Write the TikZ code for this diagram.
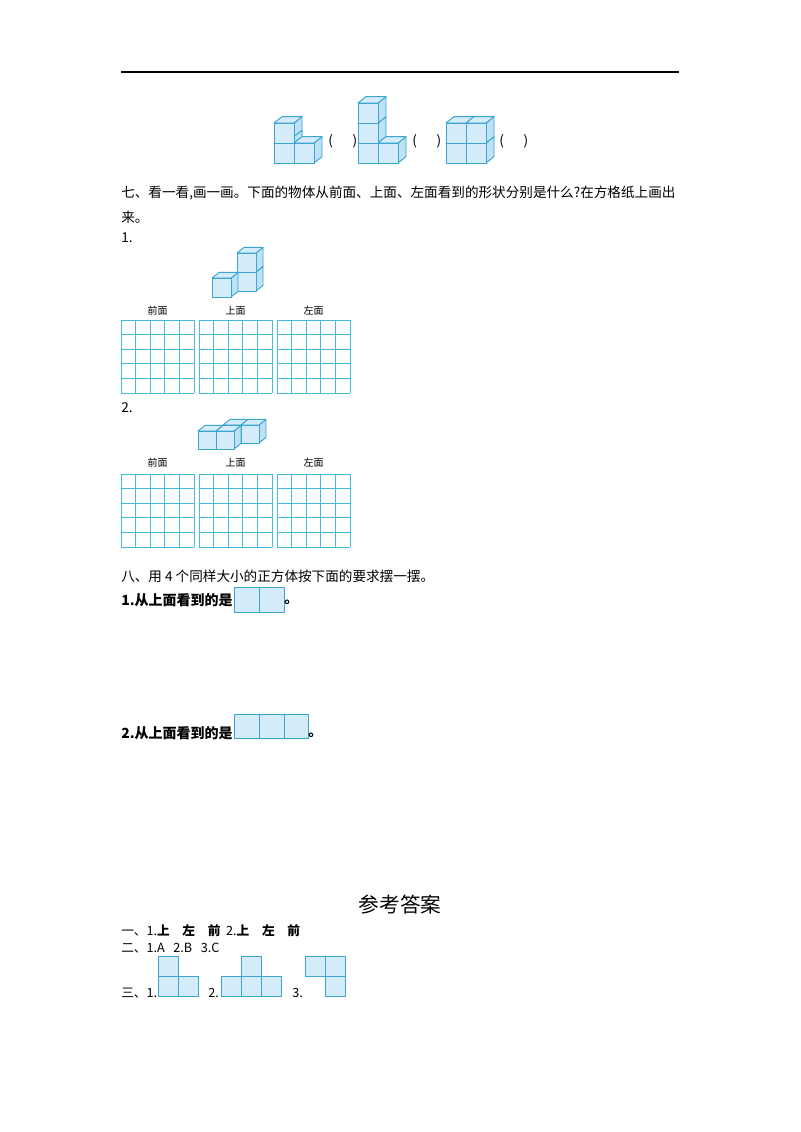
\documentclass[tikz,border=0pt]{standalone}
\usepackage{fontspec}
\setmainfont{Liberation Serif}
\newfontfamily\cjk{Noto Sans CJK SC}
\definecolor{cl}{RGB}{60,165,210}
\definecolor{cf}{RGB}{212,236,250}
\definecolor{cs}{RGB}{190,225,245}
\definecolor{gl}{RGB}{70,185,225}
\newcommand{\mycube}[4]{% x y size depth
 \pgfmathsetmacro\dx{#4}\pgfmathsetmacro\dy{-0.8*#4}
 \filldraw[cube,fill=cs] (#1+#3,#2) -- ++(\dx,\dy) -- ++(0,-#3) -- ++(-\dx,-\dy) -- cycle;
 \filldraw[cube,fill=cf] (#1,#2-#3) -- ++(\dx,\dy) -- ++(#3,0) -- ++(-\dx,-\dy) -- cycle;
 \filldraw[cube] (#1,#2) rectangle ++(#3,-#3);}
\begin{document}
\begin{tikzpicture}[x=0.75pt,y=-0.75pt,
 cube/.style={draw=cl,fill=cf,line width=0.7pt,line join=round},
 grid/.style={draw=gl,line width=0.6pt},
 txt/.style={anchor=west,font=\cjk\fontsize{10.2pt}{12pt}\selectfont,inner sep=0},
 btxt/.style={anchor=west,font=\cjk\bfseries\fontsize{10.5pt}{12pt}\selectfont,inner sep=0},
 atxt/.style={anchor=west,font=\cjk\fontsize{9.5pt}{10pt}\selectfont,inner sep=0},
 lab/.style={font=\cjk\fontsize{7.5pt}{9pt}\selectfont,inner sep=0},
 cell/.style={draw=cl,fill=cf,line width=0.7pt}]
\useasboundingbox (0,0) rectangle (800,1132);
\fill[white] (0,0) rectangle (800,1132);
\draw[line width=0.8pt] (121,72) -- (679,72);
% top figures (s=20, d=8)
\mycube{274}{163}{20}{8}
\mycube{274}{143}{20}{8}
\mycube{294}{163}{20}{8}
\draw[cube,fill=cs] (294,136.6) -- (302,130.2) -- (302,136.6);
\node[txt] (p1) at (328,141) {(\quad\ \ )};
\mycube{358}{163}{20}{8}
\mycube{358}{143}{20}{8}
\mycube{358}{123}{20}{8}
\mycube{378}{163}{20}{8}
\node[txt] (p2) at (412,141) {(\quad\ \ )};
\mycube{446}{163}{20}{8}
\mycube{446}{143}{20}{8}
\mycube{466}{163}{20}{8}
\mycube{466}{143}{20}{8}
\node[txt] (p3) at (499,141) {(\quad\ \ )};
\node[txt] (t7) at (121,193) {七、看一看,画一画。下面的物体从前面、上面、左面看到的形状分别是什么?在方格纸上画出};
\node[txt] (t7b) at (121,217) {来。};
\node[txt] (n1) at (121,238) {1.};
% figure 1
\mycube{237}{291}{19}{7}
\mycube{237}{272}{19}{7}
\mycube{212}{297}{19}{7}
% grids
\foreach \gy/\ly in {320/311,474/463}{
 \foreach \gx/\t [count=\i] in {121/前面,199/上面,277/左面}{
  \foreach \k in {0,...,5}{
   \draw[grid] (\gx+\k*14.6,\gy) -- ++(0,73);
   \draw[grid] (\gx,\gy+\k*14.6) -- ++(73,0);}
  \node[lab] (l\gy\i) at (\gx+36.5,\ly) {\t};}}
\node[txt] (n2) at (121,408) {2.};
% figure 2
\mycube{223}{443}{18}{7}
\mycube{241}{443}{18}{7}
\mycube{198}{449}{18}{7}
\mycube{216}{449}{18}{7}
\node[txt] (t8) at (121,576) {八、用 4 个同样大小的正方体按下面的要求摆一摆。};
\node[btxt] (q1) at (121,600) {1.从上面看到的是};
\draw[cell] (234,587) rectangle (259,612) (259,587) rectangle (284,612);
\node[btxt] (q1e) at (284,602) {。};
\node[btxt] (q2) at (121,733) {2.从上面看到的是};
\draw[cell] (234,714) rectangle (259,738) (259,714) rectangle (284,738) (284,714) rectangle (308,738);
\node[btxt] (q2e) at (308,735) {。};
\node[font=\cjk\fontsize{15.5pt}{18pt}\selectfont,inner sep=0] (ans) at (400,905) {参考答案};
\node[atxt] (a1) at (121,931) {一、1.\textbf{上\quad 左\quad 前}\ \ 2.\textbf{上\quad 左\quad 前}};
\node[atxt] (a2) at (121,948) {二、1.A\ \ \ 2.B\ \ \ 3.C};
\node[atxt] (a3) at (121,993) {三、1.};
\draw[cell] (158,956) rectangle (178,976) (158,976) rectangle (178,996) (178,976) rectangle (198,996);
\node[atxt] (a32) at (208,993) {2.};
\draw[cell] (241,956) rectangle (261,976) (221,976) rectangle (241,996) (241,976) rectangle (261,996) (261,976) rectangle (281,996);
\node[atxt] (a33) at (292,993) {3.};
\draw[cell] (305,956) rectangle (325,976) (325,956) rectangle (345,976) (325,976) rectangle (345,996);
\end{tikzpicture}
\end{document}
